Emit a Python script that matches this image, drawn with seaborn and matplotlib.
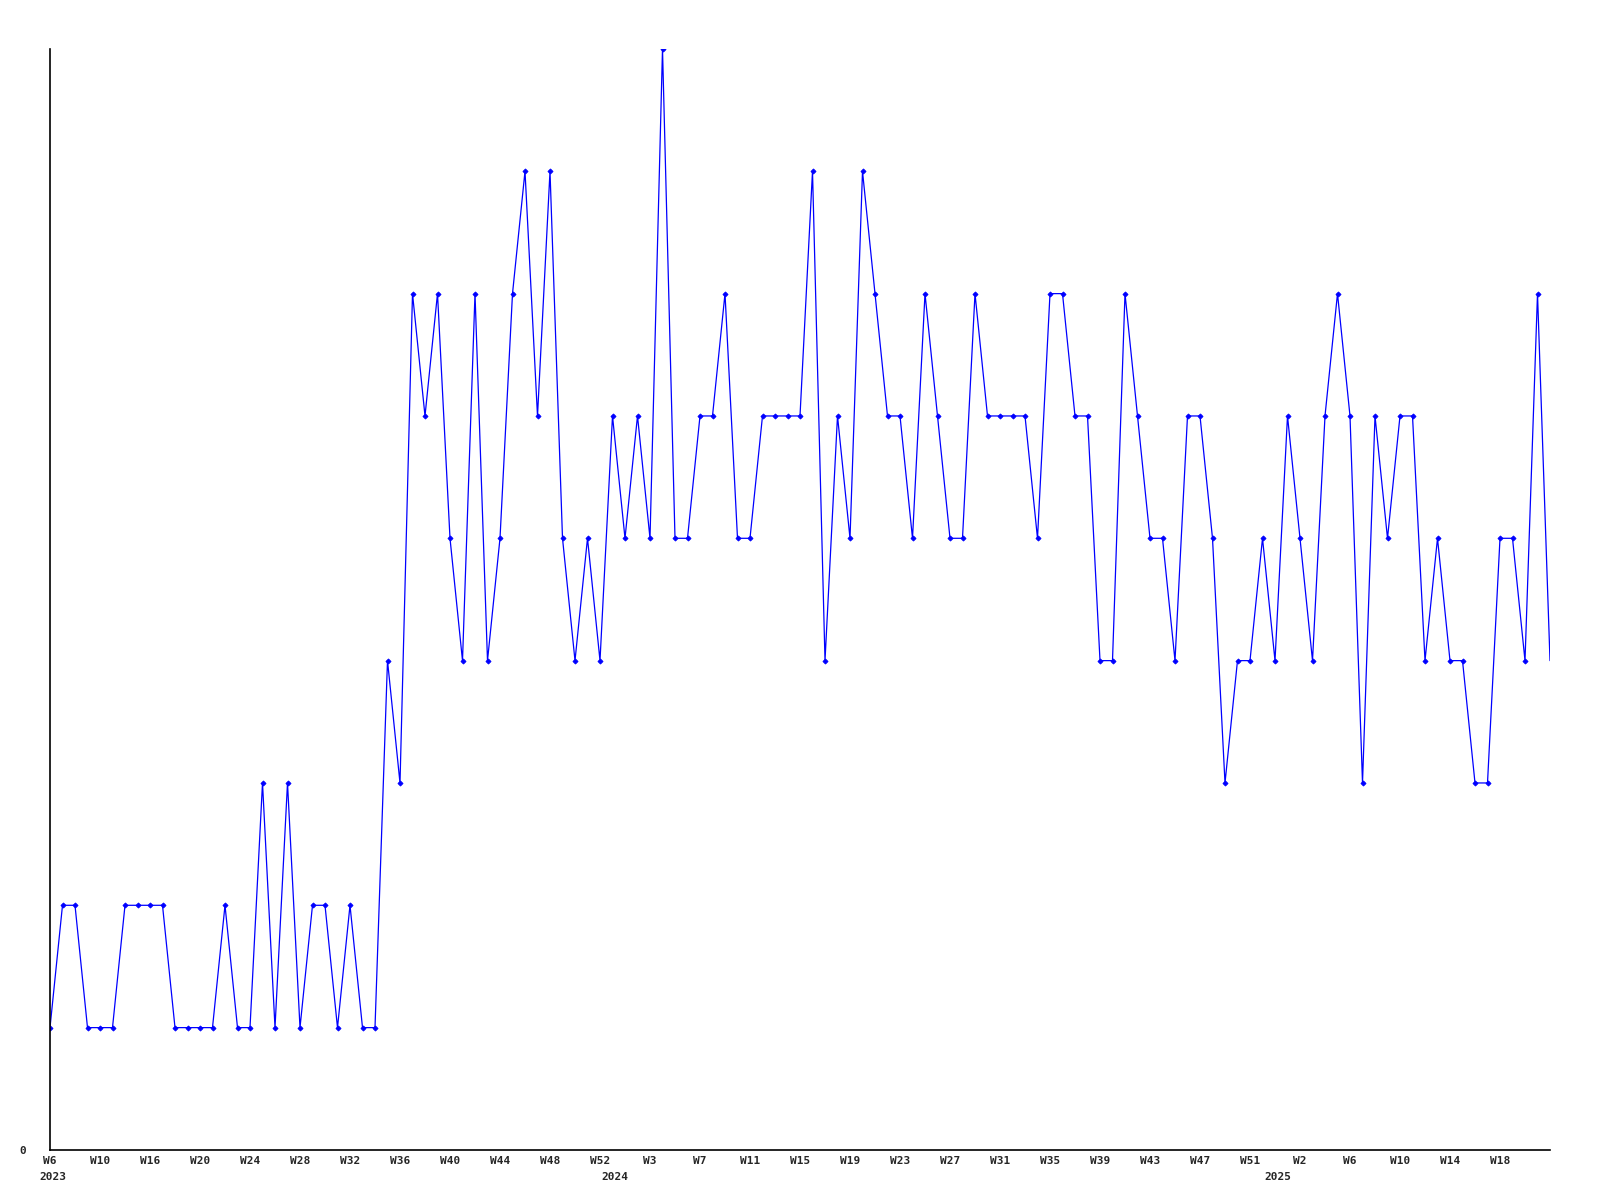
import matplotlib
matplotlib.use("Agg")
import matplotlib.pyplot as plt
import matplotlib.transforms as mtransforms
import seaborn as sns
import pandas as pd

# weekly counts, W6 2023 onwards
values = [1, 2, 2, 1, 1, 1, 2, 2, 2, 2, 1, 1, 1, 1, 2, 1, 1, 3, 1, 3,
          1, 2, 2, 1, 2, 1, 1, 4, 3, 7, 6, 7, 5, 4, 7, 4, 5, 7, 8, 6,
          8, 5, 4, 5, 4, 6, 5, 6, 5, 9, 5, 5, 6, 6, 7, 5, 5, 6, 6, 6,
          6, 8, 4, 6, 5, 8, 7, 6, 6, 5, 7, 6, 5, 5, 7, 6, 6, 6, 6, 5,
          7, 7, 6, 6, 4, 4, 7, 6, 5, 5, 4, 6, 6, 5, 3, 4, 4, 5, 4, 6,
          5, 4, 6, 7, 6, 3, 6, 5, 6, 6, 4, 5, 4, 4, 3, 3, 5, 5, 4, 7, 4]

week_labels = ["W6", "W10", "W16", "W20", "W24", "W28", "W32", "W36", "W40",
               "W44", "W48", "W52", "W3", "W7", "W11", "W15", "W19", "W23",
               "W27", "W31", "W35", "W39", "W43", "W47", "W51", "W2", "W6",
               "W10", "W14", "W18"]
year_labels = ["2023", "2024", "2025"]
year_pos = [0.25, 45.2, 98.2]

df = pd.DataFrame({"week": range(len(values)), "count": values})

sns.set_style("white")
plt.rcParams["font.family"] = ["DejaVu Sans Mono", "DejaVu Sans"]

fig = plt.figure(figsize=(16, 12), dpi=100)
ax = fig.add_axes([0.03125, 0.0417, 0.9375, 0.9175])

sns.lineplot(data=df, x="week", y="count", ax=ax, color="#0000ff",
             linewidth=0.9, marker="D", markersize=2.6,
             markeredgewidth=0.6, markeredgecolor="#0000ff",
             markevery=list(range(len(values) - 1)))

ax.set_xlim(0, len(values) - 1)
ax.set_ylim(0, 9)
ax.set_xlabel("")
ax.set_ylabel("")

ax.set_xticks(range(0, len(values) - 1, 4))
ax.set_xticklabels(week_labels, fontsize=8, fontweight="bold")
ax.set_yticks([0])
ax.set_yticklabels(["0"], fontsize=8, fontweight="bold")
ax.tick_params(axis="x", length=0, pad=4.5)
ax.tick_params(axis="y", length=0, pad=17)

trans = mtransforms.blended_transform_factory(ax.transData, ax.transAxes)
for xp, lab in zip(year_pos, year_labels):
    ax.text(xp, -0.0245, lab, transform=trans, ha="center", va="center",
            fontsize=8, fontweight="bold")

sns.despine(ax=ax)
for s in ["left", "bottom"]:
    ax.spines[s].set_color("black")
    ax.spines[s].set_linewidth(1.2)

fig.savefig("out.png", dpi=100)
